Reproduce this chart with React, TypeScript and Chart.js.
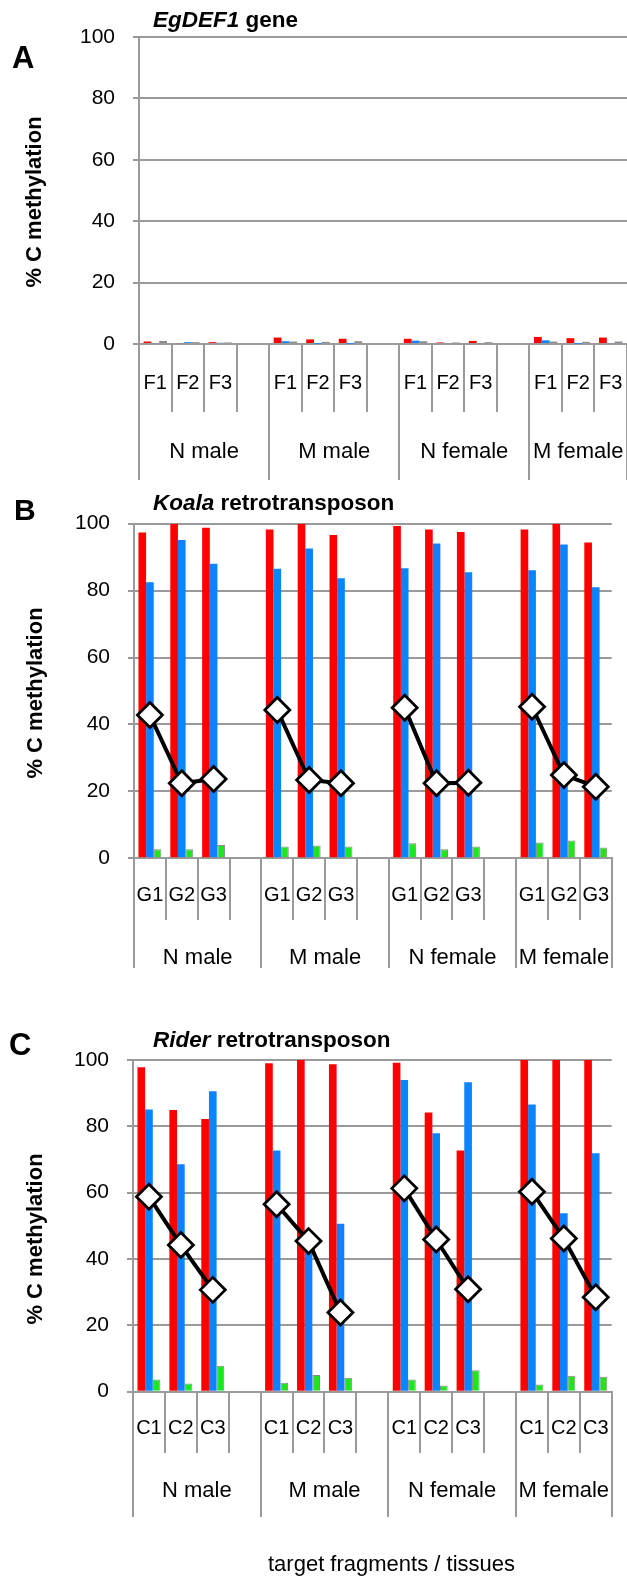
import React, { useEffect, useRef } from 'react';
import { Chart, registerables } from 'chart.js';

Chart.register(...registerables);

const FONT = '"Liberation Sans", Arial, Helvetica, sans-serif';
Chart.defaults.font.family = FONT;

// ---------- data ----------
const tissues = ['N male', 'M male', 'N female', 'M female'];
const fragmentsA = ['F1', 'F2', 'F3'];
const fragmentsB = ['G1', 'G2', 'G3'];
const fragmentsC = ['C1', 'C2', 'C3'];
const yTickValues = [0, 20, 40, 60, 80, 100];

// Panel A: EgDEF1 gene
const aRed = [0.8, 0.3, 0.6, 2.1, 1.5, 1.7, 1.7, 0.5, 1.0, 2.3, 1.9, 2.1];
const aBlue = [0.3, 0.6, 0.4, 0.9, 0.1, 0.1, 1.1, 0.3, 0.3, 1.2, 0.1, 0.3];
const aGray = [1.0, 0.6, 0.5, 0.8, 0.7, 0.9, 0.9, 0.5, 0.6, 0.8, 0.7, 0.8];

// Panel B: Koala retrotransposon
const bRed = [97.4, 100, 98.8, 98.3, 100, 96.6, 99.3, 98.3, 97.5, 98.3, 100, 94.4];
const bBlue = [82.5, 95.1, 88.0, 86.5, 92.6, 83.7, 86.7, 94.1, 85.5, 86.1, 93.8, 81.0];
const bGreen = [2.7, 2.7, 4.0, 3.5, 3.8, 3.5, 4.5, 2.7, 3.5, 4.7, 5.3, 3.2];
const bMean = [42.8, 22.4, 23.7, 44.3, 23.4, 22.4, 45.0, 22.4, 22.6, 45.3, 24.9, 21.4];

// Panel C: Rider retrotransposon
const cRed = [97.8, 84.9, 82.2, 99.0, 100, 98.7, 99.2, 84.2, 72.7, 100, 100, 100];
const cBlue = [85.1, 68.6, 90.6, 72.7, 43.0, 50.6, 94.0, 77.9, 93.3, 86.6, 53.8, 71.9];
const cGreen = [3.7, 2.5, 7.8, 2.7, 5.0, 4.2, 3.7, 1.9, 6.5, 2.2, 4.8, 4.5];
const cMean = [58.8, 44.2, 30.7, 56.5, 45.4, 23.9, 61.3, 45.9, 30.9, 60.3, 46.2, 28.5];

// ---------- helpers ----------
const GRID = '#9a9a9a';
const RED = '#ff0000';
const BLUE = '#0a84ff';
const GREEN = '#1ee61e';
const GRAY = '#8c8c8c';

function buildLabels(frags: string[]): string[] {
  const out: string[] = [];
  tissues.forEach((_, g) => {
    frags.forEach((f) => out.push(f));
    if (g < tissues.length - 1) out.push('');
  });
  return out;
}

function buildValues(vals: number[], perGroup: number): (number | null)[] {
  const out: (number | null)[] = [];
  tissues.forEach((_, g) => {
    for (let i = 0; i < perGroup; i++) out.push(vals[g * perGroup + i]);
    if (g < tissues.length - 1) out.push(null);
  });
  return out;
}

function groupTicks(perGroup: number) {
  const boundaries: number[] = [-0.5];
  const centers: { value: number; label: string }[] = [];
  let start = -0.5;
  tissues.forEach((t, g) => {
    const n = perGroup + (g < tissues.length - 1 ? 1 : 0);
    centers.push({ value: start + n / 2, label: t });
    start += n;
    boundaries.push(start);
  });
  return { boundaries, centers, max: start };
}

const panelTextPlugin = {
  id: 'panelText',
  afterDraw(chart: any, _args: any, opts: any) {
    const ctx = chart.ctx as CanvasRenderingContext2D;
    ctx.save();
    ctx.fillStyle = '#000';
    ctx.textAlign = 'left';
    ctx.textBaseline = 'alphabetic';
    ctx.font = `bold ${opts.letterSize}px ${FONT}`;
    ctx.fillText(opts.letter, opts.letterX, opts.letterY);
    ctx.font = `italic bold ${opts.titleSize}px ${FONT}`;
    ctx.fillText(opts.titleItalic, opts.titleX, opts.titleY);
    const w = ctx.measureText(opts.titleItalic).width;
    ctx.font = `bold ${opts.titleSize}px ${FONT}`;
    ctx.fillText(opts.titleRest, opts.titleX + w, opts.titleY);
    if (opts.bottomTitle) {
      ctx.font = `${opts.bottomSize}px ${FONT}`;
      ctx.fillText(opts.bottomTitle, opts.bottomX, opts.bottomY);
    }
    ctx.translate(opts.yTitleX, opts.yTitleY);
    ctx.rotate(-Math.PI / 2);
    ctx.textAlign = 'center';
    ctx.textBaseline = 'middle';
    ctx.font = `bold ${opts.yTitleSize}px ${FONT}`;
    ctx.fillText(opts.yTitle, 0, 0);
    ctx.restore();
  },
};

type PanelCfg = {
  top: number;
  height: number;
  padTop: number;
  padBottom: number;
  padRight: number;
  yAxisWidth: number;
  axis1H: number;
  axis2H: number;
  catCenter: number;
  groupCenter: number;
  frags: string[];
  red: number[];
  blue: number[];
  third: number[];
  thirdColor: string;
  thirdBorder: string;
  mean?: number[];
  text: any;
};

const CAT_SIZE = 20;
const GROUP_SIZE = 22;
const TICK_SIZE = 21;

function buildConfig(cfg: PanelCfg): any {
  const labels = buildLabels(cfg.frags);
  const n = cfg.frags.length;
  const gt = groupTicks(n);
  const p1 = cfg.catCenter - cfg.axis1H - (CAT_SIZE * 1.2) / 2;
  const p2 = cfg.groupCenter - cfg.axis2H - (GROUP_SIZE * 1.2) / 2;
  const barCommon = { categoryPercentage: 0.72, barPercentage: 1.0, order: 1, borderWidth: 0 };
  const datasets: any[] = [
    { type: 'bar', label: 'red', data: buildValues(cfg.red, n), backgroundColor: RED, ...barCommon },
    { type: 'bar', label: 'blue', data: buildValues(cfg.blue, n), backgroundColor: BLUE, ...barCommon },
    {
      type: 'bar',
      label: 'third',
      data: buildValues(cfg.third, n),
      backgroundColor: cfg.thirdColor,
      ...barCommon,
      borderWidth: cfg.thirdBorder ? 1 : 0,
      borderColor: cfg.thirdBorder || cfg.thirdColor,
    },
  ];
  if (cfg.mean) {
    datasets.push({
      type: 'line',
      label: 'mean',
      data: buildValues(cfg.mean, n),
      order: 0,
      borderColor: '#000',
      borderWidth: 4,
      pointStyle: 'rectRot',
      pointRadius: 12.5,
      pointBorderWidth: 2.8,
      pointBackgroundColor: '#fff',
      pointBorderColor: '#000',
      spanGaps: false,
      tension: 0,
    });
  }
  return {
    type: 'bar',
    data: { labels, datasets },
    plugins: [panelTextPlugin],
    options: {
      responsive: false,
      animation: false,
      devicePixelRatio: 1,
      layout: { padding: { left: 0, right: cfg.padRight, top: cfg.padTop, bottom: cfg.padBottom } },
      plugins: {
        legend: { display: false },
        tooltip: { enabled: false },
        panelText: cfg.text,
      },
      scales: {
        y: {
          min: 0,
          max: 100,
          afterBuildTicks: (s: any) => {
            s.ticks = yTickValues.map((v) => ({ value: v }));
          },
          ticks: { padding: 18, color: '#000', font: { size: TICK_SIZE } },
          grid: { color: GRID, lineWidth: 2, tickLength: 6, drawTicks: true },
          border: { display: true, color: GRID, width: 2 },
          afterFit: (s: any) => {
            s.width = cfg.yAxisWidth;
          },
        },
        x: {
          type: 'category',
          offset: true,
          grid: { offset: true, drawOnChartArea: false, drawTicks: true, tickLength: cfg.axis1H, color: GRID, lineWidth: 2 },
          border: { display: true, color: GRID, width: 2 },
          ticks: { padding: p1, color: '#000', font: { size: CAT_SIZE }, autoSkip: false, maxRotation: 0, minRotation: 0 },
          afterFit: (s: any) => {
            s.height = cfg.axis1H;
          },
        },
        x2: {
          type: 'linear',
          axis: 'x',
          position: 'bottom',
          min: -0.5,
          max: gt.max,
          offset: false,
          afterBuildTicks: (s: any) => {
            const vals = [...gt.boundaries, ...gt.centers.map((c) => c.value)].sort((a, b) => a - b);
            s.ticks = vals.map((v) => ({ value: v }));
          },
          grid: {
            offset: false,
            drawOnChartArea: false,
            drawTicks: true,
            tickLength: cfg.axis2H,
            lineWidth: 2,
            color: (ctx: any) =>
              ctx.tick && gt.boundaries.some((b) => Math.abs(b - ctx.tick.value) < 1e-6) ? GRID : 'rgba(0,0,0,0)',
          },
          border: { display: false },
          ticks: {
            padding: p2,
            color: '#000',
            font: { size: GROUP_SIZE },
            autoSkip: false,
            maxRotation: 0,
            minRotation: 0,
            callback: (v: number) => {
              const c = gt.centers.find((cc) => Math.abs(cc.value - v) < 1e-6);
              return c ? c.label : '';
            },
          },
          afterFit: (s: any) => {
            s.height = cfg.axis2H;
          },
        },
      },
    },
  };
}

const panels: PanelCfg[] = [
  {
    top: 0,
    height: 490,
    padTop: 37,
    padBottom: 10,
    padRight: 0,
    yAxisWidth: 139,
    axis1H: 68,
    axis2H: 68,
    catCenter: 39,
    groupCenter: 40,
    frags: fragmentsA,
    red: aRed,
    blue: aBlue,
    third: aGray,
    thirdColor: GRAY,
    thirdBorder: '',
    text: {
      letter: 'A', letterSize: 31, letterX: 12, letterY: 68,
      titleItalic: 'EgDEF1', titleRest: ' gene', titleSize: 22.5, titleX: 153, titleY: 27,
      yTitle: '% C methylation', yTitleSize: 22, yTitleX: 35, yTitleY: 202,
    },
  },
  {
    top: 490,
    height: 500,
    padTop: 33.7,
    padBottom: 22,
    padRight: 4,
    yAxisWidth: 134,
    axis1H: 61.7,
    axis2H: 48,
    catCenter: 36.7,
    groupCenter: 38,
    frags: fragmentsB,
    red: bRed,
    blue: bBlue,
    third: bGreen,
    thirdColor: GREEN,
    thirdBorder: '#8a8a8a',
    mean: bMean,
    text: {
      letter: 'B', letterSize: 30, letterX: 14, letterY: 30,
      titleItalic: 'Koala', titleRest: ' retrotransposon', titleSize: 22.5, titleX: 153, titleY: 20,
      yTitle: '% C methylation', yTitleSize: 22, yTitleX: 36, yTitleY: 203,
    },
  },
  {
    top: 990,
    height: 589,
    padTop: 70,
    padBottom: 62,
    padRight: 1,
    yAxisWidth: 133,
    axis1H: 61.3,
    axis2H: 64,
    catCenter: 36.3,
    groupCenter: 38,
    frags: fragmentsC,
    red: cRed,
    blue: cBlue,
    third: cGreen,
    thirdColor: GREEN,
    thirdBorder: '#8a8a8a',
    mean: cMean,
    text: {
      letter: 'C', letterSize: 31, letterX: 9, letterY: 65,
      titleItalic: 'Rider', titleRest: ' retrotransposon', titleSize: 22.5, titleX: 153, titleY: 57,
      yTitle: '% C methylation', yTitleSize: 22, yTitleX: 36, yTitleY: 249,
      bottomTitle: 'target fragments / tissues', bottomSize: 22, bottomX: 268, bottomY: 581,
    },
  },
];

function Panel({ cfg }: { cfg: PanelCfg }) {
  const ref = useRef<HTMLCanvasElement>(null);
  useEffect(() => {
    if (!ref.current) return;
    const chart = new Chart(ref.current, buildConfig(cfg));
    return () => chart.destroy();
  }, [cfg]);
  return (
    <canvas
      ref={ref}
      width={627}
      height={cfg.height}
      style={{ position: 'absolute', left: 0, top: cfg.top, width: 627, height: cfg.height, display: 'block' }}
    />
  );
}

export default function App() {
  return (
    <div style={{ position: 'absolute', left: 0, top: 0, width: 627, height: 1579, background: '#fff', overflow: 'hidden' }}>
      {panels.map((p, i) => (
        <Panel key={i} cfg={p} />
      ))}
    </div>
  );
}
